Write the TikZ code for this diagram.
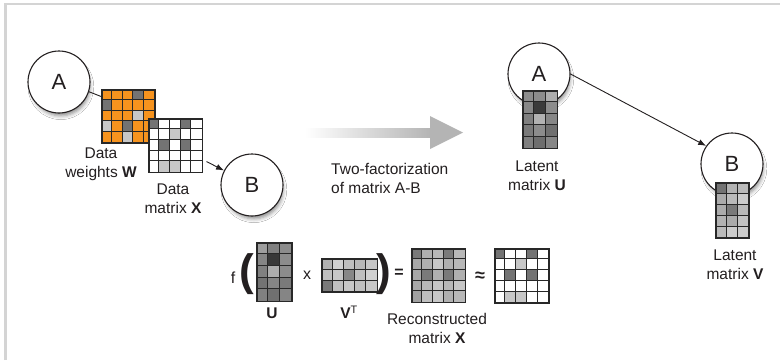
\documentclass[tikz,border=0pt]{standalone}
\usepackage{fontspec}
\setmainfont{Liberation Sans}
\usetikzlibrary{arrows.meta,shadows.blur}
\definecolor{orng}{RGB}{246,147,30}
\definecolor{txt}{RGB}{35,31,32}
\definecolor{gline}{RGB}{40,40,40}
\definecolor{framec}{RGB}{212,212,212}
\definecolor{arrgray}{RGB}{180,180,180}

% name, x, y, cell, ncols, nrows, colours (row major)
\newcommand{\gridmat}[7]{%
  \begin{scope}[shift={(#2,#3)}]
    \foreach \c [count=\i from 0] in {#7}{
      \pgfmathtruncatemacro\cc{mod(\i,#5)}
      \pgfmathtruncatemacro\rr{int(\i/#5)}
      \fill[fill=\c] (\cc*#4,\rr*#4) rectangle ++(#4,#4);
    }
    \pgfmathtruncatemacro\ncm{#5-1}
    \pgfmathtruncatemacro\nrm{#6-1}
    \foreach \k in {1,...,\ncm} \draw[gridln] (\k*#4,0) -- (\k*#4,#6*#4);
    \foreach \k in {1,...,\nrm} \draw[gridln] (0,\k*#4) -- (#5*#4,\k*#4);
    \node[draw=gline, line width=1.5pt, inner sep=0pt, anchor=north west,
          minimum width={#5*#4*1pt}, minimum height={#6*#4*1pt}] (#1) at (0,0) {};
  \end{scope}}

\tikzset{
  gridln/.style={draw=gline, line width=1.0pt},
  bubble/.style={circle, draw=txt, line width=1.1pt, fill=white, minimum size=62pt,
    inner sep=0pt, text=txt, font=\fontsize{22}{22}\selectfont,
    blur shadow={shadow xshift=2pt, shadow yshift=-5pt, shadow scale=0.94,
      shadow blur radius=4pt, shadow opacity=45}},
  lbl/.style={align=center, inner sep=0pt, text=txt, font=\fontsize{15.5}{19}\selectfont},
  sym/.style={inner sep=0pt, text=txt, font=\fontsize{16}{16}\selectfont},
  paren/.style={inner sep=0pt, text=txt, font=\fontsize{44}{44}\selectfont\bfseries},
  conn/.style={draw=txt, line width=0.9pt, -{Latex[length=8pt,width=6pt]}},
}

\begin{document}
\begin{tikzpicture}[x=1pt,y=-1pt]
\useasboundingbox (0,0) rectangle (780,360);
\fill[white] (0,0) rectangle (780,360);
\draw[framec, line width=2.6pt] (5.3,360) -- (5.3,4) -- (780,4);

% ---------- left part ----------
\node[bubble] (A1) at (59,82) {A};
\gridmat{Wm}{101}{89}{10.6}{5}{5}{orng,orng,orng,black!55,orng,
  black!55,orng,orng,orng,orng,
  orng,orng,orng,black!22,orng,
  black!22,orng,black!55,orng,orng,
  orng,orng,black!22,orng,orng}
\draw[draw=txt, line width=0.9pt] (A1.-18) -- (Wm.144);
\gridmat{Xm}{148}{118}{10.7}{5}{5}{black!55,white,white,black!55,white,
  white,white,black!22,white,white,
  white,black!55,white,black!55,white,
  white,white,white,white,white,
  white,black!22,black!22,white,white}
\node[bubble] (B1) at (252,185) {B};
\draw[conn, shorten <=4pt] (Xm) -- (B1);

\node[lbl] (lw) at (101,164) {Data\\weights \textbf{W}};
\node[lbl] (lx) at (173,199) {Data\\matrix \textbf{X}};

% ---------- grey arrow ----------
\shade[left color=white, right color=arrgray] (305,128) rectangle (431,137);
\fill[arrgray] (430,116) -- (463,132.5) -- (430,149) -- cycle;
\node[lbl, align=left, anchor=west] (tf) at (331,178) {Two-factorization\\of matrix A-B};

% ---------- right part ----------
\node[bubble] (A2) at (539,74) {A};
\gridmat{Utm}{522}{90}{11.5}{3}{5}{black!45,black!45,black!32,
  black!47,black!77,black!45,
  black!50,black!30,black!47,
  black!52,black!45,black!56,
  black!50,black!57,black!47}
\node[lbl] (lu) at (537,176) {Latent\\matrix \textbf{U}};

\node[bubble] (B2) at (732,164) {B};
\gridmat{Vm}{715}{182}{11}{3}{5}{black!55,black!30,black!27,
  black!33,black!27,black!20,
  black!33,black!52,black!27,
  black!30,black!33,black!23,
  black!27,black!20,black!20}
\node[lbl] (lv) at (735,265) {Latent\\matrix \textbf{V}};
\draw[conn] (A2.east) -- (B2.145);

% ---------- formula ----------
\node[sym] (f) at (233,278) {f};
\node[paren] (pl) at (247,274) {(};
\gridmat{Ubm}{256}{242}{11.7}{3}{5}{black!38,black!50,black!45,
  black!48,black!78,black!45,
  black!50,black!32,black!45,
  black!55,black!48,black!52,
  black!50,black!56,black!48}
\node[sym] (times) at (307,275) {x};
\gridmat{VTm}{321}{258}{11.1}{5}{3}{black!30,black!18,black!25,black!28,black!22,
  black!25,black!22,black!47,black!25,black!18,
  black!52,black!25,black!22,black!25,black!22}
\node[paren] (pr) at (384,274) {)};
\node[sym, font=\fontsize{16}{16}\selectfont\bfseries] (eq) at (399,273) {=};
\gridmat{Rm}{411}{248}{10.7}{5}{5}{black!52,black!31,black!28,black!52,black!28,
  black!34,black!31,black!22,black!31,black!28,
  black!34,black!52,black!31,black!52,black!31,
  black!34,black!28,black!22,black!28,black!22,
  black!37,black!25,black!22,black!31,black!28}
\node[sym, font=\fontsize{18}{18}\selectfont\bfseries] (apx) at (480,277) {≈};
\gridmat{X2m}{494}{248}{10.8}{5}{5}{black!55,white,white,black!55,white,
  white,white,black!22,white,white,
  white,black!55,white,black!55,white,
  white,white,white,white,white,
  white,black!22,black!22,white,white}
\node[lbl] (lub) at (272,313) {\textbf{U}};
\node[lbl] (lvt) at (349,312) {\textbf{V}\textsuperscript{T}};
\node[lbl] (lr) at (437,328) {Reconstructed\\matrix \textbf{X}};
\end{tikzpicture}
\end{document}
